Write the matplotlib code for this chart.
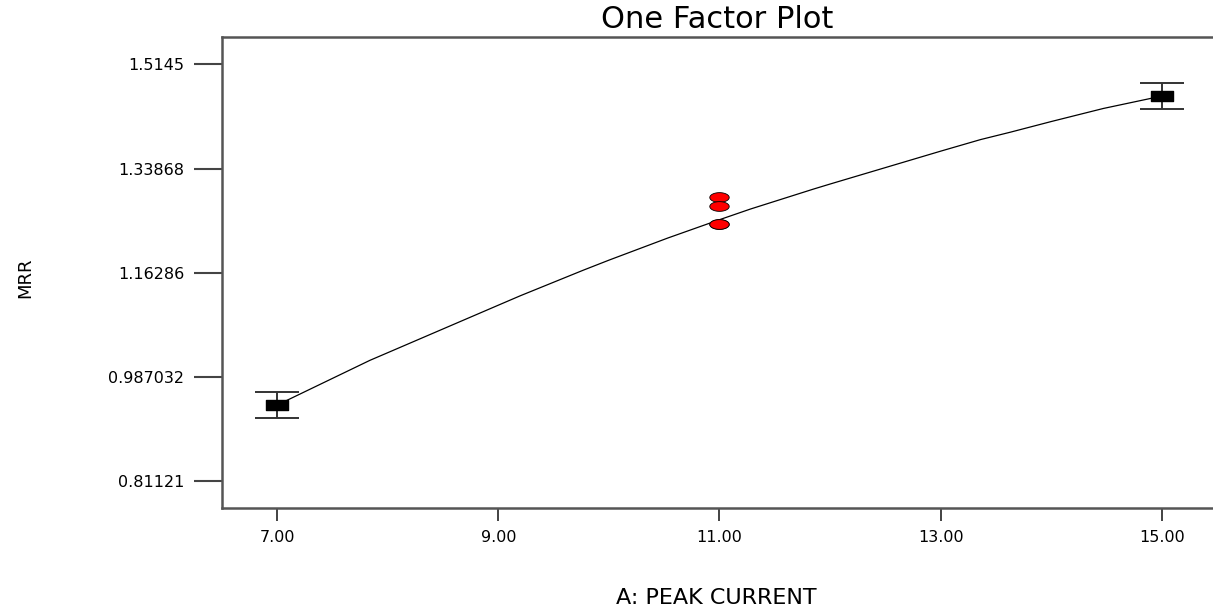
import matplotlib
matplotlib.use("Agg")
import matplotlib.pyplot as plt
from matplotlib.path import Path
import numpy as np

# ---- data ----
factor_levels = [7.0, 15.0]
predicted_means = [0.9394, 1.4610]
lsd_half = [0.0220, 0.0225]

center_x = [11.0, 11.0, 11.0, 11.0]
center_y = [1.2901, 1.2754, 1.2450, 1.2458]

curve_x = [7.0, 7.84, 8.0, 9.0, 9.2, 9.77, 10.0, 10.53, 11.0, 11.28, 11.85,
           12.0, 13.0, 13.36, 13.63, 14.0, 14.47, 15.0]
curve_y = [0.9394, 1.0150, 1.0278, 1.1080, 1.1240, 1.1672, 1.1840, 1.2212, 1.2523, 1.2703, 1.3040,
           1.3125, 1.3680, 1.3875, 1.4000, 1.4180, 1.4400, 1.4610]

xticks = [7.0, 9.0, 11.0, 13.0, 15.0]
xtick_labels = ["7.00", "9.00", "11.00", "13.00", "15.00"]
yticks = [0.81121, 0.987032, 1.16286, 1.33868, 1.5145]
ytick_labels = ["0.81121", "0.987032", "1.16286", "1.33868", "1.5145"]

W, H, DPI = 1213, 609, 100
fig = plt.figure(figsize=(W / DPI, H / DPI), dpi=DPI)
left_px, right_px, top_px, bot_px = 221.7, 1217.3, 37, 508
ax = fig.add_axes([left_px / W, 1 - bot_px / H, (right_px - left_px) / W, (bot_px - top_px) / H])

font = "DejaVu Sans"

# model curve
ax.plot(curve_x, curve_y, color="black", lw=0.9, zorder=2)

# rectangle marker (wide box)
rect = Path([(-1, -0.45), (1, -0.45), (1, 0.45), (-1, 0.45), (-1, -0.45)],
            [Path.MOVETO, Path.LINETO, Path.LINETO, Path.LINETO, Path.CLOSEPOLY])
ax.errorbar(factor_levels, predicted_means, yerr=lsd_half, fmt="none",
            ecolor="#333333", elinewidth=1.4, capsize=15.5, capthick=1.4, zorder=3)
ax.plot(factor_levels, predicted_means, linestyle="none", marker=rect,
        markersize=16, color="black", zorder=4)

# center points (red ellipses)
ell = Path([(np.cos(t), 0.5 * np.sin(t)) for t in np.linspace(0, 2 * np.pi, 40)])
ax.plot(center_x, center_y, linestyle="none", marker=ell, markersize=14,
        markerfacecolor="#ff0000", markeredgecolor="black", markeredgewidth=0.6, zorder=5)

ax.set_xlim(6.5, 15.5)
ax.set_ylim(0.7658, 1.5606)
ax.set_xticks(xticks)
ax.set_xticklabels(xtick_labels, fontsize=11.5, family=font)
ax.set_yticks(yticks)
ax.set_yticklabels(ytick_labels, fontsize=11.5, family=font)
ax.tick_params(axis="y", length=20, width=1.5, color="#444444", pad=7)
ax.tick_params(axis="x", length=9, width=1.2, color="#222222", pad=7)

for s in ["left", "bottom", "top"]:
    ax.spines[s].set_linewidth(1.8)
    ax.spines[s].set_color("#555555")
ax.spines["right"].set_visible(False)

fig.text((221.7 + 1213) / 2 / W, 1 - 20 / H, "One Factor Plot", ha="center", va="center",
         fontsize=22, family=font)
fig.text(716 / W, 1 - 598 / H, "A: PEAK CURRENT", ha="center", va="center",
         fontsize=16, family=font)
fig.text(25 / W, 1 - 278 / H, "MRR", ha="center", va="center", rotation=90,
         fontsize=13, family=font)

fig.savefig("out.png", dpi=DPI, facecolor="white")
